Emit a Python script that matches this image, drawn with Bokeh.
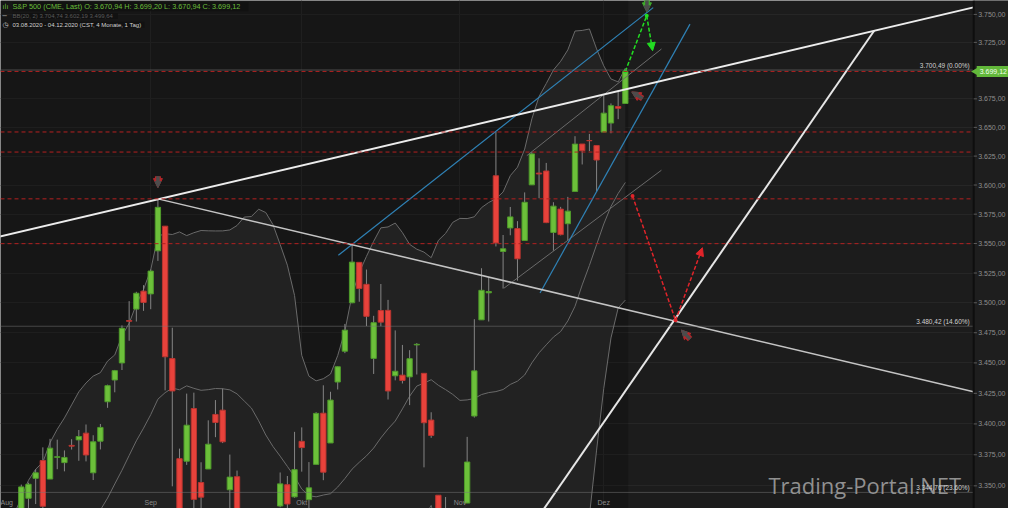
import numpy as np
from bokeh.plotting import figure
from bokeh.models import (FixedTicker, Label, Arrow, NormalHead, Range1d, Span, BoxAnnotation)
from bokeh.embed import file_html
from bokeh.resources import INLINE

# ---------------- data ----------------
aug_days = [3, 4, 5, 6, 7, 10, 11, 12, 13, 14, 17, 18, 19, 20, 21, 24, 25, 26, 27, 28, 31]
sep_days = [1, 2, 3, 4, 8, 9, 10, 11, 14, 15, 16, 17, 18, 21, 22, 23, 24, 25, 28, 29, 30]
oct_days = [1, 2, 5, 6, 7, 8, 9, 12, 13, 14, 15, 16, 19, 20, 21, 22, 23, 26, 27, 28, 29, 30]
nov_days = [2, 3, 4, 5, 6, 9, 10, 11, 12, 13, 16, 17, 18, 19, 20, 23, 24, 25, 27, 30]
dec_days = [1, 2, 3, 4]
dates = ([f"2020-08-{d:02d}" for d in aug_days] + [f"2020-09-{d:02d}" for d in sep_days] +
         [f"2020-10-{d:02d}" for d in oct_days] + [f"2020-11-{d:02d}" for d in nov_days] +
         [f"2020-12-{d:02d}" for d in dec_days])
month_names = {"08": "Aug", "09": "Sep", "10": "Okt", "11": "Nov", "12": "Dez"}

opens = [3288.26, 3289.92, 3317.37, 3323.17, 3340.05, 3356.04, 3370.34, 3355.46, 3372.95, 3368.66,
         3382.60, 3387.04, 3392.51, 3360.48, 3386.01, 3418.09, 3435.95, 3449.97, 3485.14, 3494.69,
         3509.73,
         3507.44, 3543.76, 3564.74, 3453.60, 3371.88, 3369.82, 3412.56, 3352.70, 3363.56, 3407.73,
         3411.23, 3346.86, 3357.38, 3285.57, 3295.75, 3320.11, 3226.14, 3236.66, 3333.90, 3350.92,
         3341.21,
         3385.87, 3338.94, 3367.27, 3408.74, 3384.56, 3434.28, 3459.67, 3500.02, 3534.01, 3515.47,
         3453.72, 3493.50, 3493.66, 3439.38, 3439.91, 3438.50, 3464.90, 3441.42, 3403.15, 3342.48,
         3277.17, 3293.59,
         3296.20, 3336.25, 3406.46, 3485.74, 3508.34, 3608.00, 3543.26, 3563.22, 3562.67, 3552.57,
         3600.16, 3610.31, 3612.09, 3559.41, 3579.31, 3566.82, 3594.52, 3635.50, 3638.55, 3634.18,
         3645.87, 3653.78, 3668.28, 3670.94]
highs = [3302.73, 3306.84, 3330.77, 3351.03, 3352.54, 3363.29, 3381.01, 3387.89, 3387.24, 3378.51,
         3387.59, 3395.06, 3399.54, 3390.80, 3399.96, 3432.09, 3444.21, 3481.07, 3501.38, 3509.23,
         3514.77,
         3528.03, 3588.11, 3564.85, 3479.15, 3379.97, 3424.77, 3425.55, 3368.95, 3402.93, 3419.48,
         3428.92, 3375.17, 3362.27, 3285.57, 3320.31, 3323.35, 3278.70, 3306.88, 3360.74, 3357.92,
         3393.56,
         3397.18, 3369.10, 3409.57, 3431.56, 3426.26, 3447.28, 3482.34, 3549.85, 3534.01, 3527.94,
         3489.08, 3515.76, 3502.42, 3476.93, 3464.86, 3460.53, 3466.46, 3441.42, 3409.51, 3342.48,
         3341.05, 3304.93,
         3330.14, 3389.49, 3486.25, 3529.05, 3521.58, 3645.99, 3557.22, 3581.16, 3569.02, 3593.66,
         3628.51, 3623.11, 3619.09, 3585.22, 3581.23, 3589.81, 3642.31, 3635.50, 3644.31, 3634.18,
         3678.45, 3670.96, 3682.73, 3699.20]
lows = [3284.53, 3286.37, 3317.37, 3318.14, 3328.72, 3335.44, 3326.44, 3355.46, 3363.35, 3361.64,
        3379.22, 3370.15, 3369.66, 3354.69, 3379.31, 3413.13, 3425.84, 3444.15, 3468.35, 3484.32,
        3493.25,
        3494.60, 3535.23, 3427.41, 3349.63, 3329.27, 3366.84, 3329.25, 3310.47, 3363.56, 3389.25,
        3384.45, 3328.82, 3292.40, 3229.10, 3270.95, 3232.57, 3209.45, 3228.44, 3332.91, 3327.54,
        3340.47,
        3361.39, 3323.69, 3367.27, 3354.54, 3384.56, 3428.15, 3458.07, 3499.61, 3500.86, 3480.55,
        3440.89, 3480.45, 3419.93, 3435.65, 3433.06, 3415.34, 3440.45, 3364.86, 3388.71, 3268.89,
        3259.82, 3233.94,
        3279.74, 3336.25, 3405.17, 3485.74, 3484.34, 3547.48, 3511.91, 3557.00, 3518.58, 3552.57,
        3600.16, 3588.68, 3567.33, 3543.84, 3556.85, 3552.77, 3594.52, 3617.76, 3629.33, 3594.39,
        3645.87, 3644.84, 3657.17, 3670.94]
closes = [3294.61, 3306.51, 3327.77, 3349.16, 3351.28, 3360.47, 3333.69, 3380.35, 3373.43, 3372.85,
          3381.99, 3389.78, 3374.85, 3385.51, 3397.16, 3431.28, 3443.62, 3478.73, 3484.55, 3508.01,
          3500.31,
          3526.65, 3580.84, 3455.06, 3426.96, 3331.84, 3398.96, 3339.19, 3340.97, 3383.54, 3401.20,
          3385.49, 3357.01, 3319.47, 3281.06, 3315.57, 3236.92, 3246.59, 3298.46, 3351.60, 3335.47,
          3363.00,
          3380.80, 3348.42, 3408.60, 3360.97, 3419.44, 3446.83, 3477.14, 3534.22, 3511.93, 3488.67,
          3483.34, 3483.81, 3426.92, 3443.12, 3435.56, 3453.49, 3465.39, 3400.97, 3390.68, 3271.03,
          3310.11, 3269.96,
          3310.24, 3369.16, 3443.44, 3510.45, 3509.44, 3550.50, 3545.53, 3572.66, 3537.01, 3585.15,
          3626.91, 3609.53, 3567.79, 3581.87, 3557.54, 3577.59, 3635.41, 3629.65, 3638.35, 3621.63,
          3662.45, 3669.01, 3666.72, 3699.12]
# closes of the 19 sessions before the window (Bollinger warm-up)
prior_closes = [3145.32, 3169.94, 3152.05, 3185.04, 3155.22, 3197.52, 3226.56, 3215.57, 3224.73,
                3251.84, 3257.30, 3276.02, 3235.66, 3215.63, 3239.41, 3218.44, 3258.44, 3246.22,
                3271.12]
bb_legend = [3704.74, 3602.19, 3499.64]

price_ticks = [3350, 3375, 3400, 3425, 3450, 3475, 3500, 3525, 3550, 3575, 3600, 3625, 3650,
               3675, 3700, 3725, 3750]

# horizontal levels
red_levels = [3699.20, 3645.99, 3628.51, 3588.11, 3549.85]
fib_levels = [3700.49, 3480.42, 3344.76]
fib_pcts = ["0.00%", "14.60%", "23.60%"]

# drawn trend lines: (bar index, price) pairs
resist_x, resist_y = [0, 136], [3555.9, 3757.2]
desc_x, desc_y = [22, 136], [3588.11, 3425.5]
rise_x, rise_y = [74.1, 121.6], [3318.5, 3735.4]
blue1_x, blue1_y = [47.09, 90.87], [3540.1, 3756.1]
blue2_x, blue2_y = [75.14, 95.99], [3508.2, 3741.3]
grey1_x, grey1_y = [70.13, 92.02], [3512.3, 3612.8]
grey2_x, grey2_y = [73.3, 92.02], [3625.4, 3719.1]
green_path_x, green_path_y = [87.0, 89.97, 90.79], [3699.2, 3748.8, 3717.6]
red_path_x, red_path_y = [88.0, 93.98, 97.72], [3590.5, 3485.3, 3546.4]
# block marker arrows: (tail_x, tail_y, tip_x, tip_y, outline colour)
markers = [(22, 3607.5, 22, 3597.8, "#b3262a"),
           (90.0, 3766.0, 90.0, 3752.3, "#3fae2c"),
           (89.4, 3675.3, 87.9, 3681.1, "#b3262a"),
           (96.0, 3469.7, 94.8, 3477.2, "#b3262a")]

# ---------------- derived ----------------
n = len(closes)
idx = np.arange(n)
allc = np.array(prior_closes + closes)
win = np.lib.stride_tricks.sliding_window_view(allc, 20)
bb_mid = win.mean(axis=1)
bb_sd = win.std(axis=1)
bb_up = bb_mid + 2 * bb_sd
bb_lo = bb_mid - 2 * bb_sd

o = np.array(opens); c = np.array(closes)
up = c >= o
body_top = np.maximum(o, c)
body_bot = np.minimum(o, c)


def de(v):
    s = f"{v:,.2f}"
    return s.replace(",", "X").replace(".", ",").replace("X", ".")


FONT = "Liberation Sans"
BG = "#1c1c1c"
AXIS_X = 135.44          # bar-index position of the price-axis edge
X_END = 140.28

p = figure(width=1008, height=508, x_range=Range1d(0.11, X_END), y_range=Range1d(3331.9, 3762.5),
           y_axis_type="log", y_axis_location=None, x_axis_location=None,
           output_backend="svg", toolbar_location=None,
           background_fill_color=BG, border_fill_color=BG,
           min_border_left=0, min_border_right=0, min_border_top=0, min_border_bottom=0,
           outline_line_color=None)

month_idx = [i for i in range(n) if i == 0 or dates[i][5:7] != dates[i - 1][5:7]]
p.xgrid.ticker = FixedTicker(ticks=month_idx)
p.xgrid.grid_line_color = "#272727"
p.ygrid.ticker = FixedTicker(ticks=price_ticks)
p.ygrid.grid_line_color = "#262626"

# darker history area, Bollinger band fill
p.add_layout(BoxAnnotation(right=n - 1 + 0.4, fill_color="#000000", fill_alpha=0.2,
                           line_color=None, level="underlay"))
p.varea(x=idx, y1=bb_lo, y2=bb_up, fill_color="#222222")
for band in (bb_up, bb_mid, bb_lo):
    p.line(idx, band, line_color="#6a6a6a", line_width=1)

# candles
p.segment(x0=idx, y0=lows, x1=idx, y1=highs, line_color="#858585", line_width=1)
p.vbar(x=idx[up], width=0.74, top=body_top[up], bottom=body_bot[up],
       fill_color="#6cc03a", line_color="#4f9a2b", line_width=1)
p.vbar(x=idx[~up], width=0.74, top=body_top[~up], bottom=body_bot[~up],
       fill_color="#e8423b", line_color="#b93530", line_width=1)

# horizontal levels
for lv in red_levels:
    p.add_layout(Span(location=lv, dimension="width", line_color="#b42020",
                      line_dash="4 3", line_width=1))
for lv in fib_levels:
    p.add_layout(Span(location=lv, dimension="width", line_color="#777777",
                      line_dash="1 1", line_width=1))

# trend lines
p.line(grey1_x, grey1_y, line_color="#6a6a6a", line_width=1)
p.line(grey2_x, grey2_y, line_color="#6a6a6a", line_width=1)
p.line(blue1_x, blue1_y, line_color="#2f82b6", line_width=1.2)
p.line(blue2_x, blue2_y, line_color="#2f82b6", line_width=1.2)
p.line(desc_x, desc_y, line_color="#c4c4c4", line_width=1.5)
p.line(resist_x, resist_y, line_color="#ececec", line_width=2)
p.line(rise_x, rise_y, line_color="#e6e6e6", line_width=2)

# dashed projection arrows
p.line(green_path_x[:2], green_path_y[:2], line_color="#22dd22", line_width=1.5, line_dash="4 2")
p.add_layout(Arrow(x_start=green_path_x[1], y_start=green_path_y[1], x_end=green_path_x[2],
                   y_end=green_path_y[2], line_color="#22dd22", line_width=1.5, line_dash="4 2",
                   end=NormalHead(size=8, fill_color="#22dd22", line_color="#22dd22")))
p.scatter(green_path_x[:2], green_path_y[:2], size=4, fill_color="#22dd22", line_color=None)
p.line(red_path_x[:2], red_path_y[:2], line_color="#e0242a", line_width=1.5, line_dash="4 2")
p.add_layout(Arrow(x_start=red_path_x[1], y_start=red_path_y[1], x_end=red_path_x[2],
                   y_end=red_path_y[2], line_color="#e0242a", line_width=1.5, line_dash="4 2",
                   end=NormalHead(size=8, fill_color="#e0242a", line_color="#e0242a")))
p.scatter(red_path_x[:2], red_path_y[:2], size=4, fill_color="#e0242a", line_color=None)

# block marker arrows (outlined)
for tx, ty, hx, hy, col in markers:
    p.add_layout(Arrow(x_start=tx, y_start=ty, x_end=hx, y_end=hy, line_color=col, line_width=6,
                       end=NormalHead(size=9, fill_color=col, line_color=col)))
    p.add_layout(Arrow(x_start=tx, y_start=ty, x_end=hx, y_end=hy, line_color="#4c4c4c",
                       line_width=3.5, end=NormalHead(size=6, fill_color="#4c4c4c",
                                                      line_color="#4c4c4c")))

# watermark
p.add_layout(Label(x=768, y=24, x_units="screen", y_units="screen", text="Trading-Portal.NET",
                   text_font="Open Sans", text_font_size="22px", text_color="#a6a6a6",
                   text_alpha=0.85, text_baseline="alphabetic"))

# fibonacci level labels
for lv, pct in zip(fib_levels, fib_pcts):
    p.add_layout(Label(x=AXIS_X, y=lv, x_offset=-4, y_offset=1,
                       text=f"{de(lv)} ({pct})", text_align="right", text_baseline="bottom",
                       text_font=FONT, text_font_size="6.5px", text_color="#d2d2d2"))

# month labels
for i in month_idx:
    if i == 0:
        p.add_layout(Label(x=0, x_units="screen", y=6, y_units="screen",
                           text=month_names[dates[i][5:7]], text_align="left",
                           text_baseline="middle", text_font=FONT, text_font_size="7px",
                           text_color="#8a8a8a"))
    else:
        p.add_layout(Label(x=i, y=6, y_units="screen", text=month_names[dates[i][5:7]],
                           text_align="center", text_baseline="middle", text_font=FONT,
                           text_font_size="7px", text_color="#8a8a8a"))

# header
hdr1 = (f"S&P 500 (CME, Last)  O: {de(opens[-1])}  H: {de(highs[-1])}  "
        f"L: {de(lows[-1])}  C: {de(closes[-1])}")
hdr2 = "BB(20, 2)  " + "  ".join(de(v) for v in bb_legend)
hdr3 = (f"{dates[0][8:10]}.{dates[0][5:7]}.{dates[0][:4]} - "
        f"{dates[-1][8:10]}.{dates[-1][5:7]}.{dates[-1][:4]}   (CST, 4 Monate, 1 Tag)")
rows = [(hdr1, "#6abf3a", "ılı", "#6abf3a", 501.7, "7.3px"),
        (hdr2, "#5a5a5a", "━", "#6a6a6a", 492.5, "6px"),
        (hdr3, "#d2d2d2", "◷", "#d2d2d2", 483.7, "6px")]
for txt, col, icon, icol, yy, fs in rows:
    p.add_layout(Label(x=12, y=yy, x_units="screen", y_units="screen", text=txt,
                       text_baseline="middle", text_font=FONT, text_font_size=fs,
                       text_color=col, background_fill_color="#111111",
                       background_fill_alpha=0.85))
    p.add_layout(Label(x=2, y=yy, x_units="screen", y_units="screen", text=icon,
                       text_baseline="middle", text_font="DejaVu Sans", text_font_size="7px",
                       text_color=icol))

# ---------------- price axis (right) ----------------
p.add_layout(BoxAnnotation(left=AXIS_X, fill_color="#1e1e1e", fill_alpha=1.0, line_color=None))
p.add_layout(Span(location=AXIS_X, dimension="height", line_color="#0e0e0e", line_width=2))
p.segment(x0=[AXIS_X] * len(price_ticks), y0=price_ticks,
          x1=[AXIS_X + 0.45] * len(price_ticks), y1=price_ticks,
          line_color="#5c5c5c", line_width=1, level="overlay")
for t in price_ticks:
    p.add_layout(Label(x=AXIS_X, y=t, x_offset=4.5, text=de(t), text_align="left",
                       text_baseline="middle", text_font=FONT, text_font_size="7px",
                       text_color="#8e8e8e"))
# last price tag
p.scatter(x=[AXIS_X + 0.35], y=[closes[-1]], marker="triangle", angle=np.pi / 2, size=9,
          fill_color="#62b83a", line_color=None, level="overlay")
p.add_layout(Label(x=AXIS_X, y=closes[-1], x_offset=3, text=de(closes[-1]),
                   text_align="left", text_baseline="middle", text_font=FONT,
                   text_font_size="7px", text_color="#f2fff0", background_fill_color="#62b83a",
                   padding=3))

open("out.html", "w").write(file_html(p, INLINE))
